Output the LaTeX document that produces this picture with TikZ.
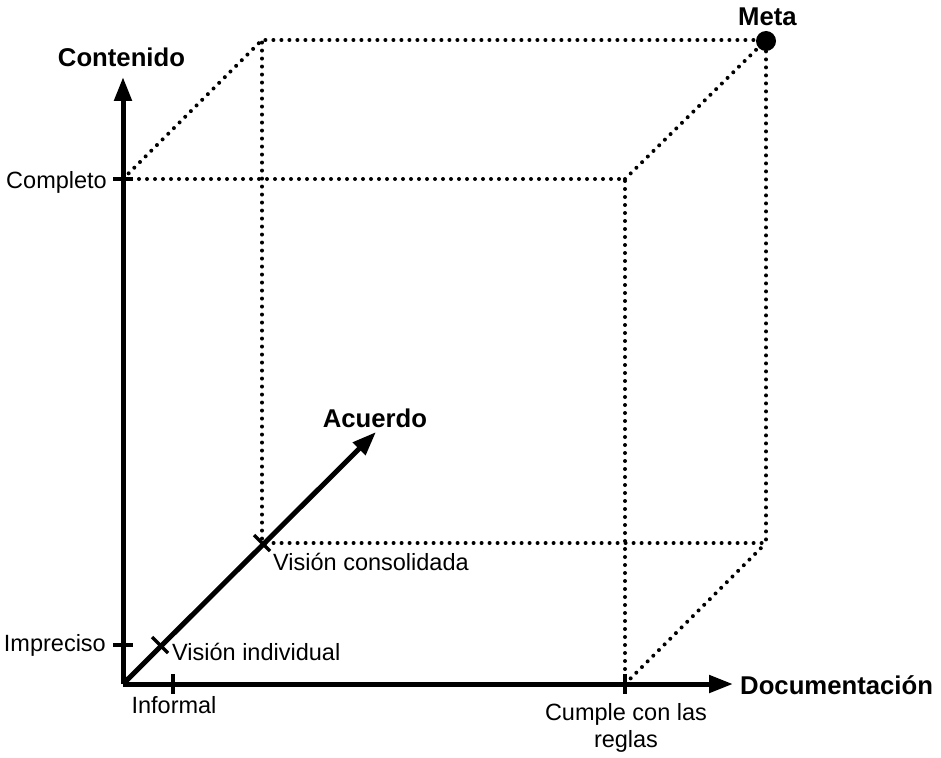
\documentclass[tikz,border=0pt]{standalone}
\usepackage{fontspec}
\setmainfont{Liberation Sans}
\usetikzlibrary{arrows.meta,positioning}

\begin{document}
\begin{tikzpicture}[x=1pt,y=-1pt,
    axis/.style={line width=5pt,-{Triangle[length=24pt,width=17pt]}},
    tickmark/.style={line width=3.5pt},
    dots/.style={line width=4pt,line cap=round,dash pattern=on 0pt off 8pt},
    lbl/.style={font=\fontsize{23.5}{27}\selectfont,inner sep=0pt},
    title/.style={font=\fontsize{25.7}{30}\selectfont\bfseries,inner sep=0pt}]
\useasboundingbox (0,0) rectangle (941,757);

% axes and cube corners
\coordinate (O)    at (123,684);
\coordinate (ytip) at (123,77);
\coordinate (xtip) at (733,684);
\coordinate (ztip) at (376,432);
\coordinate (f1) at (123,179);
\coordinate (f2) at (625,179);
\coordinate (f3) at (625,684);
\coordinate (b1) at (262,40);
\coordinate (b2) at (766,40);
\coordinate (b3) at (766,543);
\coordinate (b4) at (262,543);
\coordinate (vi) at (160,645);

% dotted cube
\draw[dots] (f1) -- (f2) -- (f3);
\draw[dots] (f1) -- (b1) -- (b2) -- (b3) -- (b4) -- (b1);
\draw[dots] (f2) -- (b2);
\draw[dots] (f3) -- (b3);

% axes
\draw[axis] (O) -- (ytip);
\draw[axis] (O) -- (xtip);
\draw[axis] (O) -- (ztip);

% ticks
\draw[tickmark] (f1) ++(-10,0) -- ++(20,0);
\draw[tickmark] (123,645) ++(-10,0) -- ++(20,0);
\draw[tickmark] (173,684) ++(0,-10) -- ++(0,20);
\draw[tickmark] (f3) ++(0,-10) -- ++(0,20);
\draw[tickmark] (vi) ++(-8,-8) -- ++(16,16);
\draw[tickmark] (b4) ++(-8,-8) -- ++(16,16);

\node[circle,fill,minimum size=20pt,inner sep=0pt] (meta) at (766,41) {};

% labels
\node[title,anchor=base] (contenido) at (121.5,67) {Contenido};
\node[title,anchor=base] (metalbl) at (767.5,26) {Meta};
\node[title,anchor=base] (acuerdo) at (375,427) {Acuerdo};
\node[title,anchor=base west] (doc) at (740,694) {Documentación};
\node[lbl,anchor=base east] (completo) at (107,188) {Completo};
\node[lbl,anchor=base east] (impreciso) at (106,651.5) {Impreciso};
\node[lbl,anchor=base] (informal) at (174,713) {Informal};
\node[lbl,anchor=base west] (vindiv) at (172,660.5) {Visión individual};
\node[lbl,anchor=base west] (vcons) at (273,570.5) {Visión consolidada};
\node[lbl,anchor=north,align=center] (cumple) at (626,703) {Cumple con las\\reglas};
\end{tikzpicture}
\end{document}
